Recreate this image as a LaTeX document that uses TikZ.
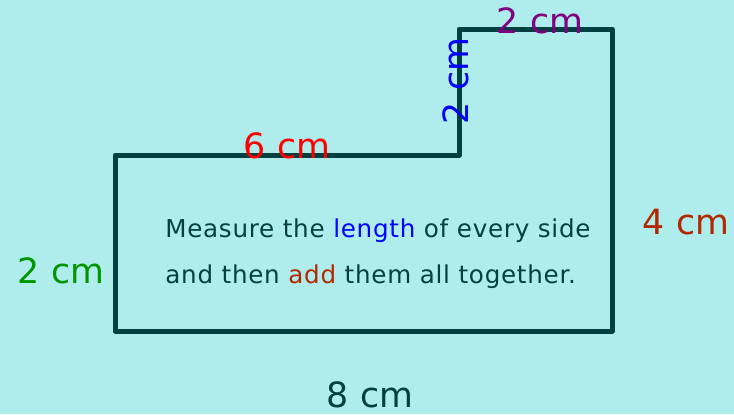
\documentclass[tikz,border=0pt]{standalone}
\usepackage{fontspec}
\setmainfont{DejaVu Sans}
\newfontfamily\notefont[LetterSpace=3]{DejaVu Sans}
\usepackage{xcolor}
\usetikzlibrary{positioning}
\definecolor{bgcyan}{RGB}{175,237,237}
\definecolor{edgeteal}{RGB}{0,64,64}
\definecolor{sidepurple}{RGB}{128,0,128}
\definecolor{sideblue}{RGB}{0,0,255}
\definecolor{sidered}{RGB}{255,0,0}
\definecolor{siderust}{RGB}{178,40,0}
\definecolor{sidegreen}{RGB}{0,150,0}
\tikzset{
  edge/.style={draw=edgeteal,line width=0.1cm,line cap=round,line join=round},
  sidelabel/.style={font=\fontsize{19.8}{22}\selectfont,inner sep=0pt,
    anchor=base},
  notetext/.style={font=\notefont\fontsize{14}{16}\selectfont,text=edgeteal,
    inner sep=0pt,anchor=base west}
}
\begin{document}
\begin{tikzpicture}[x=0.02cm,y=-0.02cm]
  \fill[bgcyan] (0,0) rectangle (734,414);
  \useasboundingbox (0,0) rectangle (734,414);
  % corners of the shape
  \coordinate (a) at (115,155);
  \coordinate (b) at (459,155);
  \coordinate (c) at (459,29);
  \coordinate (d) at (612,29);
  \coordinate (e) at (612,331);
  \coordinate (f) at (115,331);
  \draw[edge] (a) -- (b) -- (c) -- (d) -- (e) -- (f) -- cycle;
  % side lengths
  \node[sidelabel,text=sidepurple] (top) at (540,33) {2 cm};
  \node[sidelabel,text=sideblue,rotate=90,anchor=center] (step) at (456,81) {2 cm};
  \node[sidelabel,text=sidered] (upper) at (287,158) {6 cm};
  \node[sidelabel,text=siderust] (right) at (686,234) {4 cm};
  \node[sidelabel,text=sidegreen] (left) at (61,283) {2 cm};
  \node[sidelabel,text=edgeteal] (bottom) at (370,407) {8 cm};
  % instruction
  \node[notetext] (line1) at (165,237)
    {Measure the \textcolor{sideblue}{length} of every side};
  \node[notetext] (line2) at (165,283)
    {and then \textcolor{siderust}{add} them all together.};
\end{tikzpicture}
\end{document}
